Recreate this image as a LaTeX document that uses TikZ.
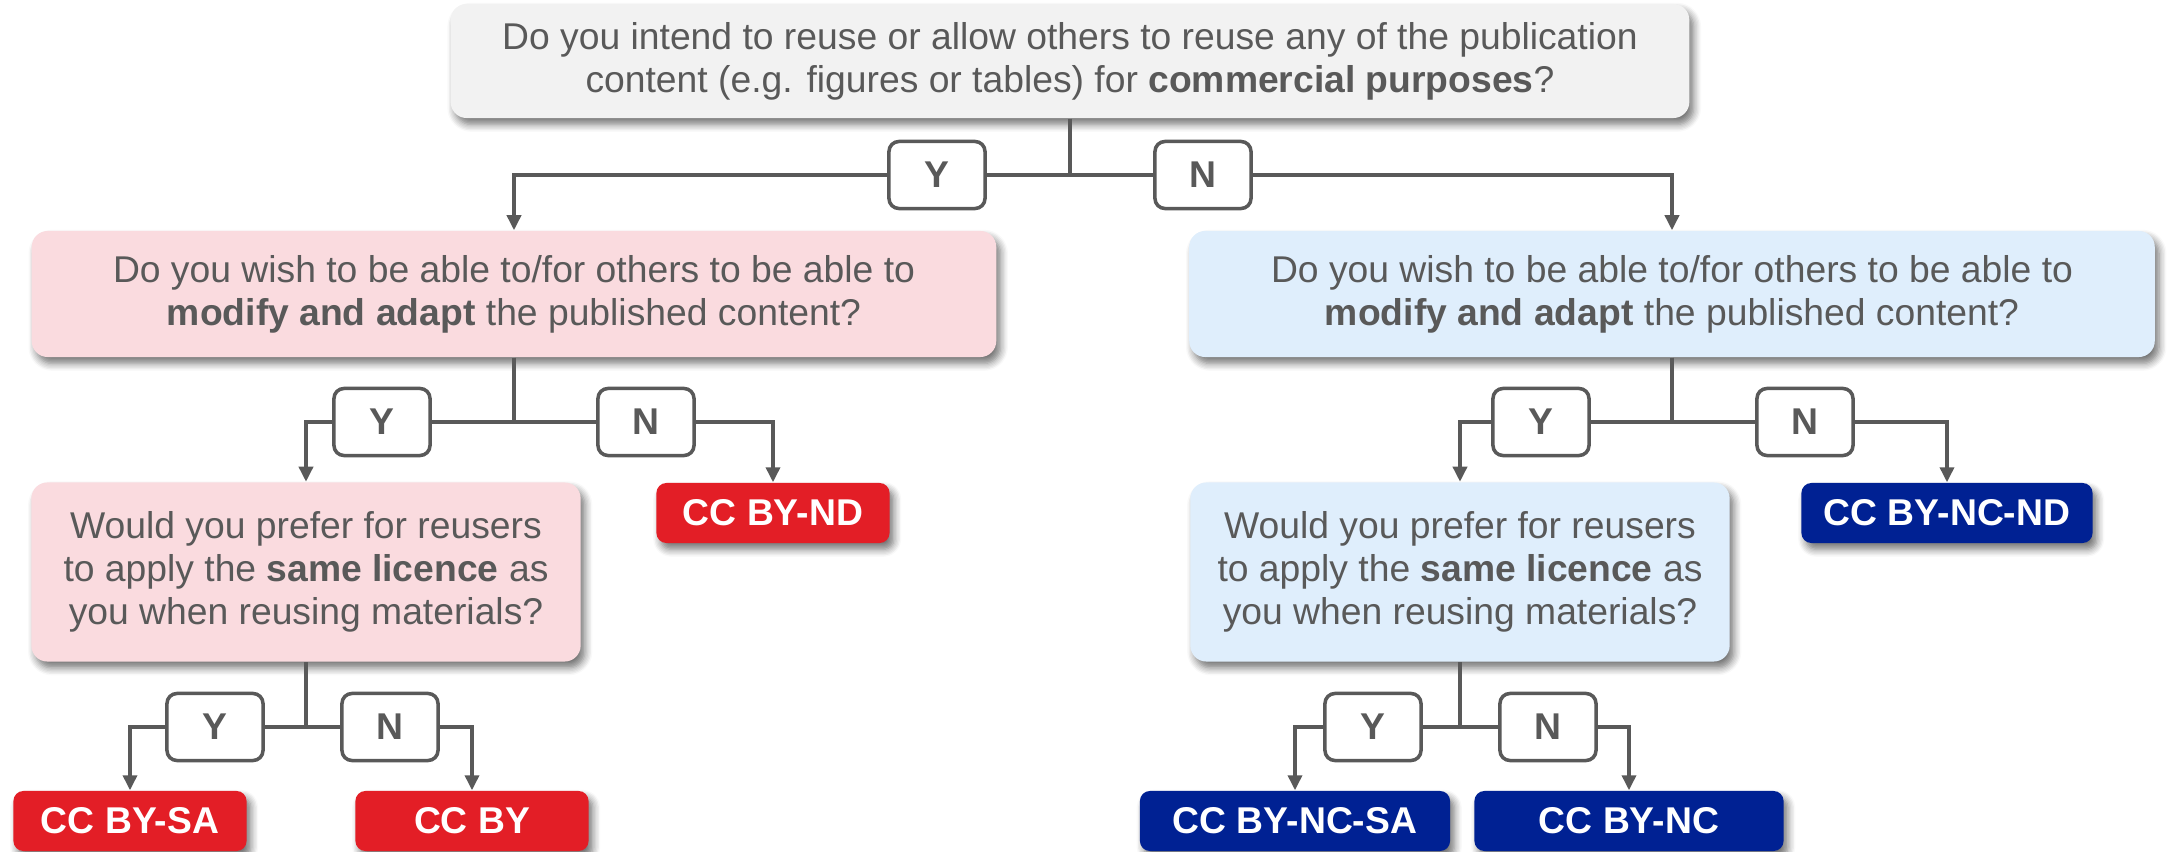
\documentclass[tikz,border=0pt]{standalone}
\usepackage{fontspec}
\setmainfont{Liberation Sans}
\usetikzlibrary{arrows.meta,shadows.blur}
\definecolor{txtgray}{HTML}{595959}
\definecolor{boxgray}{HTML}{F2F2F2}
\definecolor{boxpink}{HTML}{FADBDF}
\definecolor{boxblue}{HTML}{DFEEFC}
\definecolor{ccred}{HTML}{E31E26}
\definecolor{ccnavy}{HTML}{002193}
\begin{document}
\begin{tikzpicture}[x=0.01cm,y=-0.01cm,font=\fontsize{10.6}{12.2}\selectfont,
softshadow/.style={blur shadow={shadow xshift=1.2pt,shadow yshift=-1.8pt,shadow blur steps=6,shadow opacity=55}},
question/.style={rectangle,rounded corners=0.16cm,align=center,text=txtgray,inner sep=0pt,softshadow},
yesno/.style={rectangle,rounded corners=0.1cm,draw=txtgray,line width=1pt,fill=white,text=txtgray,font=\fontsize{10.6}{12.2}\selectfont\bfseries,minimum width=0.96cm,minimum height=0.67cm,inner sep=0pt},
licence/.style={rectangle,rounded corners=0.1cm,text=white,font=\fontsize{10.6}{12.2}\selectfont\bfseries,minimum height=0.6cm,inner sep=0pt,softshadow},
link/.style={draw=txtgray,line width=1pt},
arr/.style={link,-{Triangle[length=0.15cm,width=0.14cm]}}]
\useasboundingbox (0,0) rectangle (2168,852);
% questions
\node[question,fill=boxgray,minimum width=12.38cm,minimum height=1.14cm] (q1) at (1070,61)
{Do you intend to reuse or allow others to reuse any of the publication\\content (e.g. figures or tables) for \textbf{commercial purposes}?};
\node[question,fill=boxpink,minimum width=9.64cm,minimum height=1.26cm] (q2l) at (514,294)
{Do you wish to be able to/for others to be able to\\\textbf{modify and adapt} the published content?};
\node[question,fill=boxblue,minimum width=9.65cm,minimum height=1.26cm] (q2r) at (1672,294)
{Do you wish to be able to/for others to be able to\\\textbf{modify and adapt} the published content?};
\node[question,fill=boxpink,minimum width=5.49cm,minimum height=1.79cm] (q3l) at (306,572)
{Would you prefer for reusers\\to apply the \textbf{same licence} as\\you when reusing materials?};
\node[question,fill=boxblue,minimum width=5.39cm,minimum height=1.79cm] (q3r) at (1460,572)
{Would you prefer for reusers\\to apply the \textbf{same licence} as\\you when reusing materials?};
% licences
\node[licence,fill=ccred,minimum width=2.33cm] (bynd) at (773,513) {CC BY-ND};
\node[licence,fill=ccnavy,minimum width=2.91cm] (byncnd) at (1947,513) {CC BY-NC-ND};
\node[licence,fill=ccred,minimum width=2.33cm] (bysa) at (130,821) {CC BY-SA};
\node[licence,fill=ccred,minimum width=2.33cm] (by) at (472,821) {CC BY};
\node[licence,fill=ccnavy,minimum width=3.1cm] (byncsa) at (1295,821) {CC BY-NC-SA};
\node[licence,fill=ccnavy,minimum width=3.09cm] (bync) at (1629,821) {CC BY-NC};
% answers
\node[yesno] (y1) at (937,175) {Y};
\node[yesno] (n1) at (1203,175) {N};
\node[yesno] (y2l) at (382,422) {Y};
\node[yesno] (n2l) at (646,422) {N};
\node[yesno] (y2r) at (1541,422) {Y};
\node[yesno] (n2r) at (1805,422) {N};
\node[yesno] (y3l) at (215,727) {Y};
\node[yesno] (n3l) at (390,727) {N};
\node[yesno] (y3r) at (1373,727) {Y};
\node[yesno] (n3r) at (1548,727) {N};
% branches
\draw[link] (q1.south) |- (y1.east);
\draw[link] (q1.south) |- (n1.west);
\draw[arr] (y1.west) -| (q2l.north);
\draw[arr] (n1.east) -| (q2r.north);
\draw[link] (q2l.south) |- (y2l.east);
\draw[link] (q2l.south) |- (n2l.west);
\draw[arr] (y2l.west) -| (q3l.north);
\draw[arr] (n2l.east) -| (bynd.north);
\draw[link] (q2r.south) |- (y2r.east);
\draw[link] (q2r.south) |- (n2r.west);
\draw[arr] (y2r.west) -| (q3r.north);
\draw[arr] (n2r.east) -| (byncnd.north);
\draw[link] (q3l.south) |- (y3l.east);
\draw[link] (q3l.south) |- (n3l.west);
\draw[arr] (y3l.west) -| (bysa.north);
\draw[arr] (n3l.east) -| (by.north);
\draw[link] (q3r.south) |- (y3r.east);
\draw[link] (q3r.south) |- (n3r.west);
\draw[arr] (y3r.west) -| (byncsa.north);
\draw[arr] (n3r.east) -| (bync.north);
\end{tikzpicture}
\end{document}
